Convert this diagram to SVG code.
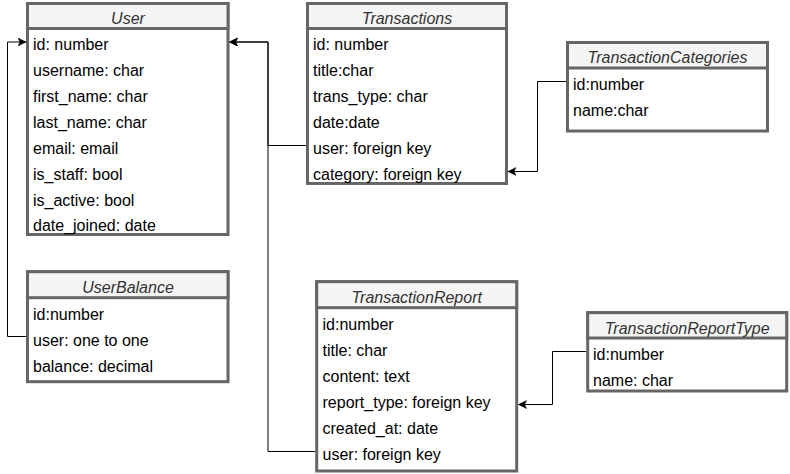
<svg xmlns="http://www.w3.org/2000/svg" width="790" height="474" viewBox="0 0 790 474">
<style>
.box{fill:#ffffff;stroke:#666666;stroke-width:3}
.hdr{fill:#f5f5f5;stroke:#666666;stroke-width:3}
.title{font-family:"Liberation Sans",Arial,sans-serif;font-size:16px;font-style:italic;fill:#333333;text-anchor:middle}
.row{font-family:"Liberation Sans",Arial,sans-serif;font-size:16px;fill:#000000}
.conn{fill:none;stroke:#000000;stroke-width:1}
</style>
<defs>
<marker id="arr" markerWidth="10" markerHeight="10" refX="8" refY="4" orient="auto" markerUnits="userSpaceOnUse">
<path d="M0,0 L8,4 L0,8 L2,4 z" fill="#000000" stroke="#000000" stroke-width="0.5"/>
</marker>
</defs>
<rect width="790" height="474" fill="#ffffff"/>

<g id="connectors">
<path class="conn" d="M27,336.5 H7.5 V42 H26" marker-end="url(#arr)"/>
<path class="conn" d="M306,145.5 H268 V42 H229.5" marker-end="url(#arr)"/>
<path class="conn" d="M315,451.5 H268 V42 H229.5" marker-end="url(#arr)"/>
<path class="conn" d="M566,81.5 H537.5 V171.5 H508" marker-end="url(#arr)"/>
<path class="conn" d="M586,351.5 H552.5 V404.5 H518.5" marker-end="url(#arr)"/>
</g>

<g id="User">
<rect class="box" x="27.5" y="3.5" width="200.5" height="231"/>
<rect class="hdr" x="27.5" y="3.5" width="200.5" height="25"/>
<text class="title" x="128" y="23.5">User</text>
<text class="row" x="33" y="49.5">id: number</text>
<text class="row" x="33" y="75.5">username: char</text>
<text class="row" x="33" y="101.5">first_name: char</text>
<text class="row" x="33" y="127.5">last_name: char</text>
<text class="row" x="33" y="153.5">email: email</text>
<text class="row" x="33" y="179.5">is_staff: bool</text>
<text class="row" x="33" y="205.5">is_active: bool</text>
<text class="row" x="33" y="231">date_joined: date</text>
</g>

<g id="Transactions">
<rect class="box" x="307.5" y="3.5" width="199" height="180"/>
<rect class="hdr" x="307.5" y="3.5" width="199" height="25"/>
<text class="title" x="407" y="23.5">Transactions</text>
<text class="row" x="313" y="49.5">id: number</text>
<text class="row" x="313" y="75.5">title:char</text>
<text class="row" x="313" y="101.5">trans_type: char</text>
<text class="row" x="313" y="127.5">date:date</text>
<text class="row" x="313" y="153.5">user: foreign key</text>
<text class="row" x="313" y="179.5">category: foreign key</text>
</g>

<g id="TransactionCategories">
<rect class="box" x="567.5" y="42.5" width="200" height="88.5"/>
<rect class="hdr" x="567.5" y="42.5" width="200" height="25.5"/>
<text class="title" x="667.5" y="63">TransactionCategories</text>
<text class="row" x="573" y="90">id:number</text>
<text class="row" x="573" y="116">name:char</text>
</g>

<g id="UserBalance">
<rect class="box" x="27.5" y="271.7" width="200.5" height="110"/>
<rect class="hdr" x="27.5" y="271.7" width="200.5" height="26"/>
<text class="title" x="128" y="292.5">UserBalance</text>
<text class="row" x="33" y="319.5">id:number</text>
<text class="row" x="33" y="345.5">user: one to one</text>
<text class="row" x="33" y="371.5">balance: decimal</text>
</g>

<g id="TransactionReport">
<rect class="box" x="316.7" y="281.7" width="200" height="189.3"/>
<rect class="hdr" x="316.7" y="281.7" width="200" height="26"/>
<text class="title" x="416.7" y="302.5">TransactionReport</text>
<text class="row" x="322.5" y="329.5">id:number</text>
<text class="row" x="322.5" y="355.5">title: char</text>
<text class="row" x="322.5" y="381.5">content: text</text>
<text class="row" x="322.5" y="407.5">report_type: foreign key</text>
<text class="row" x="322.5" y="433.5">created_at: date</text>
<text class="row" x="322.5" y="459.5">user: foreign key</text>
</g>

<g id="TransactionReportType">
<rect class="box" x="587.7" y="312.7" width="199" height="78.3"/>
<rect class="hdr" x="587.7" y="312.7" width="199" height="25.3"/>
<text class="title" x="687.2" y="333.5">TransactionReportType</text>
<text class="row" x="593" y="359.5">id:number</text>
<text class="row" x="593" y="385.5">name: char</text>
</g>
</svg>
